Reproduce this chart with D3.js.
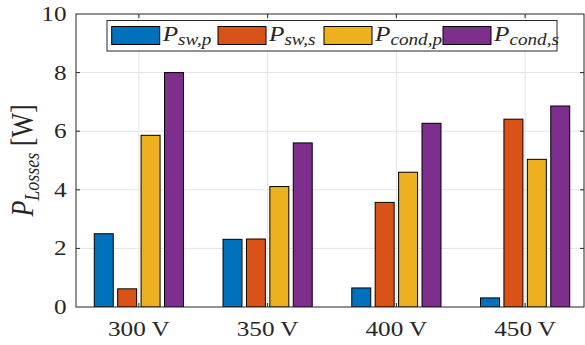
<!DOCTYPE html>
<html>
<head>
<meta charset="utf-8">
<script src="https://cdn.jsdelivr.net/npm/d3@7"></script>
<style>
  body { margin: 0; background: #fff; }
  svg { display: block; }
  text { font-family: "Liberation Serif", "DejaVu Serif", serif; fill: #262626; }
</style>
</head>
<body>
<div id="chart"></div>
<script>
// Data
const categories = ["300 V", "350 V", "400 V", "450 V"];
const seriesSubs = ["sw,p", "sw,s", "cond,p", "cond,s"];
const seriesColors = ["#0072BD", "#D95319", "#EDB120", "#7E2F8E"];
const swP = [2.50, 2.31, 0.65, 0.31];
const swS = [0.62, 2.32, 3.57, 6.41];
const condP = [5.86, 4.11, 4.60, 5.04];
const condS = [8.00, 5.60, 6.27, 6.86];
const yTicks = [0, 2, 4, 6, 8, 10];

const seriesValues = [swP, swS, condP, condS];

const W = 585, H = 345;
const plot = { left: 76, right: 584, top: 14, bottom: 307 };
const sx = 1.2; // the source figure is stretched horizontally

const svg = d3.select("#chart").append("svg")
  .attr("width", W)
  .attr("height", H);

const x = d3.scalePoint()
  .domain(categories)
  .range([74.5, 589.5])
  .padding(0.5);

const xSub = d3.scaleBand()
  .domain(seriesSubs)
  .range([-44.6, 44.6])
  .paddingInner(0.19);

const y = d3.scaleLinear()
  .domain([0, 10])
  .range([plot.bottom, plot.top]);

svg.append("clipPath").attr("id", "clip")
  .append("rect")
  .attr("x", plot.left).attr("y", plot.top)
  .attr("width", plot.right - plot.left)
  .attr("height", plot.bottom - plot.top);

// grid
const grid = svg.append("g").attr("clip-path", "url(#clip)");
grid.selectAll(".hgrid")
  .data(yTicks.slice(1, -1))
  .join("line")
  .attr("x1", plot.left).attr("x2", plot.right)
  .attr("y1", d => y(d)).attr("y2", d => y(d))
  .attr("stroke", "#e3e3e3").attr("stroke-width", 1);
grid.selectAll(".vgrid")
  .data(categories)
  .join("line")
  .attr("x1", d => x(d)).attr("x2", d => x(d))
  .attr("y1", plot.top).attr("y2", plot.bottom)
  .attr("stroke", "#e3e3e3").attr("stroke-width", 1);

// inner ticks
const ticks = svg.append("g").attr("stroke", "#262626").attr("stroke-width", 1);
yTicks.slice(1, -1).forEach(t => {
  ticks.append("line").attr("x1", plot.left).attr("x2", plot.left + 4)
    .attr("y1", y(t)).attr("y2", y(t));
  ticks.append("line").attr("x1", plot.right - 4).attr("x2", plot.right)
    .attr("y1", y(t)).attr("y2", y(t));
});
categories.forEach(c => {
  ticks.append("line").attr("x1", x(c)).attr("x2", x(c))
    .attr("y1", plot.bottom).attr("y2", plot.bottom - 4);
  ticks.append("line").attr("x1", x(c)).attr("x2", x(c))
    .attr("y1", plot.top).attr("y2", plot.top + 4);
});

// bars
const bars = svg.append("g").attr("clip-path", "url(#clip)");
seriesSubs.forEach((s, si) => {
  bars.selectAll(".bar-" + si)
    .data(seriesValues[si])
    .join("rect")
    .attr("x", (d, i) => x(categories[i]) + xSub(s))
    .attr("y", d => y(d))
    .attr("width", xSub.bandwidth())
    .attr("height", d => y(0) - y(d))
    .attr("fill", seriesColors[si])
    .attr("stroke", "#000")
    .attr("stroke-width", 1);
});

// axes box
svg.append("rect")
  .attr("x", plot.left).attr("y", plot.top)
  .attr("width", plot.right - plot.left)
  .attr("height", plot.bottom - plot.top)
  .attr("fill", "none")
  .attr("stroke", "#262626")
  .attr("stroke-width", 1);

// y tick labels
svg.selectAll(".ylab")
  .data(yTicks)
  .join("text")
  .attr("transform", d => `translate(66.5,${y(d) + 7}) scale(${sx},1)`)
  .attr("text-anchor", "end")
  .style("font-size", "21px")
  .text(d => d);

// x tick labels
svg.selectAll(".xlab")
  .data(categories)
  .join("text")
  .attr("transform", d => `translate(${x(d)},336) scale(${sx},1)`)
  .attr("text-anchor", "middle")
  .style("font-size", "21px")
  .text(d => d);

// y axis label
const yl = svg.append("text")
  .attr("transform", `translate(33,${(plot.top + plot.bottom) / 2}) rotate(-90) scale(1,${sx})`)
  .attr("text-anchor", "middle")
  .style("font-size", "26px");
yl.append("tspan").style("font-style", "italic").text("P");
yl.append("tspan").style("font-style", "italic").style("font-size", "18px")
  .attr("dy", 5).text("Losses");
yl.append("tspan").attr("dy", -5).text(" [W]");

// legend
const legendX = [111.7, 218, 324, 443];
const legend = svg.append("g");
legend.append("rect")
  .attr("x", 107).attr("y", 20.5)
  .attr("width", 450).attr("height", 30.5)
  .attr("fill", "#fff")
  .attr("stroke", "#262626")
  .attr("stroke-width", 1);
seriesSubs.forEach((s, i) => {
  legend.append("rect")
    .attr("x", legendX[i]).attr("y", 26.5)
    .attr("width", 48).attr("height", 18)
    .attr("fill", seriesColors[i])
    .attr("stroke", "#000").attr("stroke-width", 1);
  const t = legend.append("text")
    .attr("transform", `translate(${legendX[i] + 51},41) scale(${sx},1)`)
    .style("font-size", "21px")
    .style("font-style", "italic");
  t.append("tspan").text("P");
  t.append("tspan").style("font-size", "16px").attr("dy", 4).text(s);
});
</script>
</body>
</html>
